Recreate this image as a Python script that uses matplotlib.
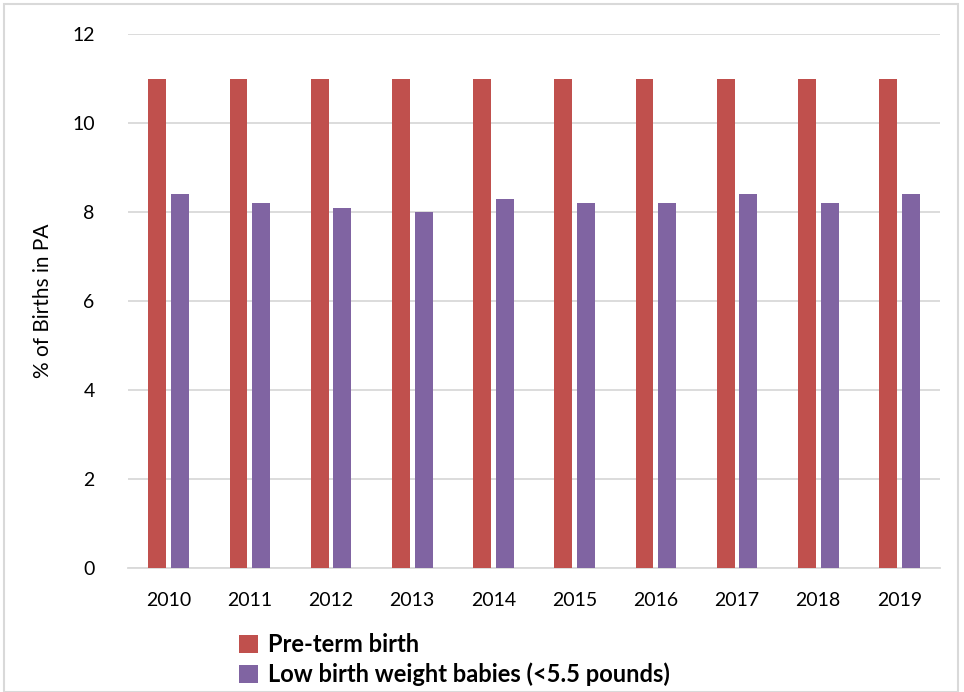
import matplotlib
matplotlib.use("Agg")
import matplotlib.pyplot as plt
import numpy as np
from matplotlib.patches import Rectangle

YEARS    = ["2010", "2011", "2012", "2013", "2014", "2015", "2016", "2017", "2018", "2019"]
PRETERM  = [11, 11, 11, 11, 11, 11, 11, 11, 11, 11]
LOW_WT   = [8.4, 8.2, 8.1, 8.0, 8.3, 8.2, 8.2, 8.4, 8.2, 8.4]
LABELS   = ["Pre-term birth", "Low birth weight babies (<5.5 pounds)"]
COLORS   = ["#c0504d", "#8064a2"]

plt.rcParams['font.family'] = ['Lato', 'DejaVu Sans']

fig = plt.figure(figsize=(9.64, 6.92), dpi=100)
ax = fig.add_axes([128/964, 1 - 568/692, (940-128)/964, (568-34)/692])

x = np.arange(len(YEARS))
w = 0.22
ax.bar(x - 0.14, PRETERM, w, color=COLORS[0], label=LABELS[0], zorder=3)
ax.bar(x + 0.14, LOW_WT, w, color=COLORS[1], label=LABELS[1], zorder=3)

ax.set_xlim(-0.5, len(YEARS) - 0.5)
ax.set_ylim(0, 12)
ax.set_yticks(range(0, 13, 2))
ax.set_xticks(x)
ax.set_xticklabels(YEARS)
ax.tick_params(axis='both', length=0, labelsize=14, colors='#000000')
ax.tick_params(axis='y', pad=24)
ax.tick_params(axis='x', pad=17)
ax.grid(axis='y', color='#d9d9d9', linewidth=1.3, zorder=0)
for s in ['top', 'right', 'left']:
    ax.spines[s].set_visible(False)
ax.spines['bottom'].set_color('#d9d9d9')
ax.spines['bottom'].set_linewidth(1.3)
ax.set_ylabel("% of Births in PA", fontsize=15, labelpad=14)

leg = fig.legend(loc='upper left', bbox_to_anchor=(218/964, 1 - 612/692),
                 frameon=False, handlelength=0.8, handleheight=0.8,
                 handletextpad=0.4, labelspacing=0.25,
                 prop={'size': 17, 'weight': 'bold'})

fig.patches.append(Rectangle((4/964, 0), 954/964, 688/692, transform=fig.transFigure,
                             fill=False, edgecolor='#d9d9d9', linewidth=1.5))

fig.savefig("out.png", dpi=100)
